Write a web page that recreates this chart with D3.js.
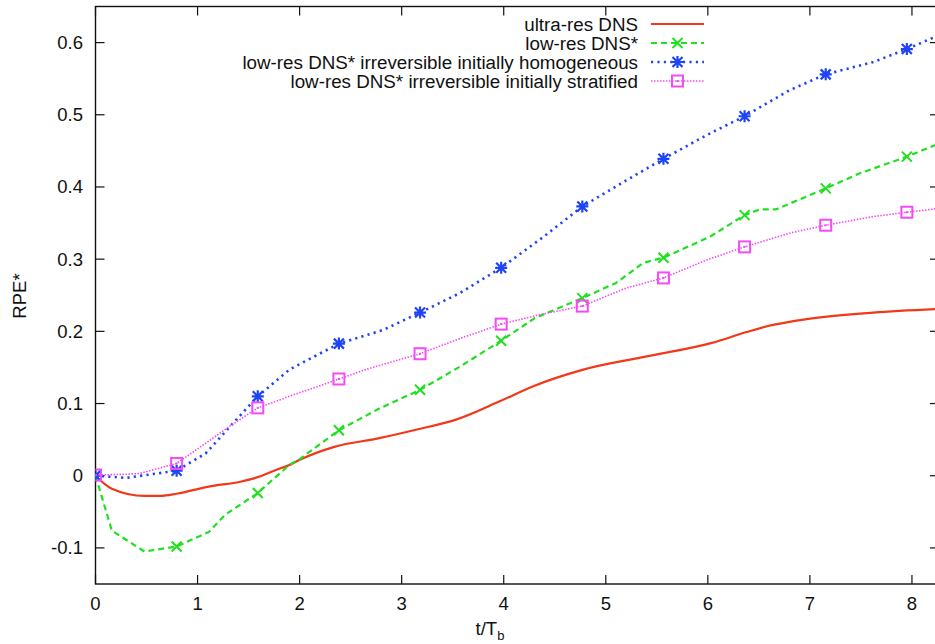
<!DOCTYPE html>
<html><head><meta charset="utf-8">
<script src="https://cdn.jsdelivr.net/npm/d3@7"></script>
<style>
body{margin:0;background:#fff;}
text{font-family:"Liberation Sans",Arial,Helvetica,sans-serif;fill:#111;}
</style></head><body>
<svg id="chart" width="935" height="644"></svg>
<script>
// ---- data ----
const xTicks = [0,1,2,3,4,5,6,7,8];
const yTicks = [-0.1,0,0.1,0.2,0.3,0.4,0.5,0.6];
const yTickLabels = ["-0.1","0","0.1","0.2","0.3","0.4","0.5","0.6"];
const markerT = [0,0.795,1.59,2.385,3.18,3.975,4.77,5.565,6.36,7.155,7.95];

const seriesNames = ["ultra-res DNS","low-res DNS*","low-res DNS* irreversible initially homogeneous","low-res DNS* irreversible initially stratified"];

const ultraT = [0,0.16,0.48,0.64,0.795,1.11,1.43,1.59,1.75,1.9,2.0,2.34,2.78,3.15,3.54,3.96,4.29,4.78,5.43,6.04,6.38,6.58,6.97,7.62,8.26];
const ultraV = [0,-0.018,-0.028,-0.028,-0.025,-0.015,-0.008,-0.002,0.007,0.015,0.022,0.040,0.052,0.064,0.078,0.103,0.124,0.147,0.166,0.184,0.199,0.207,0.217,0.226,0.231];

const lowT = [0,0.16,0.48,0.795,1.11,1.27,1.59,1.9,2.0,2.385,2.78,3.18,3.57,3.975,4.3,4.5,4.77,5.1,5.37,5.565,6.02,6.36,6.51,6.67,7.155,7.49,7.95,8.26];
const lowV = [0,-0.076,-0.105,-0.098,-0.078,-0.054,-0.024,0.015,0.023,0.063,0.093,0.119,0.151,0.187,0.218,0.230,0.246,0.267,0.295,0.302,0.331,0.361,0.369,0.369,0.398,0.419,0.442,0.460];

const homT = [0,0.30,0.795,1.08,1.35,1.59,1.90,2.385,2.82,3.18,3.57,3.975,4.39,4.77,5.2,5.565,5.99,6.36,6.80,7.155,7.62,7.95,8.26];
const homV = [0,-0.003,0.007,0.031,0.073,0.110,0.147,0.183,0.202,0.226,0.253,0.288,0.331,0.373,0.409,0.439,0.472,0.498,0.534,0.556,0.573,0.591,0.610];

const strT = [0,0.30,0.43,0.795,1.08,1.31,1.59,1.90,2.385,2.69,3.18,3.57,3.975,4.35,4.77,5.2,5.565,5.99,6.36,6.80,7.155,7.62,7.95,8.26];
const strV = [0.001,0.002,0.003,0.017,0.045,0.068,0.094,0.110,0.134,0.149,0.169,0.190,0.210,0.223,0.235,0.260,0.274,0.299,0.317,0.336,0.347,0.359,0.365,0.370];

// ---- layout ----
const svg = d3.select("#chart");
const L = 95.5, R = 939, T = 6.5, B = 584;
const x = d3.scaleLinear().domain([0, 8.265]).range([L, R]);
const y = d3.scaleLinear().domain([-0.15, 0.65]).range([B, T]);

const styles = [
  {color:"#f2381a", dash:null, width:2.2, marker:"none", curve:d3.curveMonotoneX},
  {color:"#1fe01f", dash:"6,4", width:2.2, marker:"x", curve:d3.curveLinear},
  {color:"#1f44f5", dash:"2.2,4.2", width:2.6, marker:"star", curve:d3.curveLinear},
  {color:"#f44cf4", dash:"1.5,1.5", width:1.6, marker:"square", curve:d3.curveLinear}
];
const series = [
  {t:ultraT, v:ultraV},
  {t:lowT, v:lowV},
  {t:homT, v:homV},
  {t:strT, v:strV}
];

svg.append("defs").append("clipPath").attr("id","clip")
  .append("rect").attr("x",L).attr("y",T).attr("width",R-L).attr("height",B-T);

// axes frame with inward ticks
const frame = svg.append("g");
const tickLen = 9;
xTicks.forEach(t=>{
  frame.append("line").attr("x1",x(t)).attr("x2",x(t)).attr("y1",B).attr("y2",B-tickLen).attr("stroke","#111").attr("stroke-width",1.2);
  frame.append("line").attr("x1",x(t)).attr("x2",x(t)).attr("y1",T).attr("y2",T+tickLen).attr("stroke","#111").attr("stroke-width",1.2);
  frame.append("text").attr("x",x(t)).attr("y",610).attr("text-anchor","middle").attr("font-size",18.5).text(d3.format("d")(t));
});
yTicks.forEach((v,i)=>{
  frame.append("line").attr("x1",L).attr("x2",L+tickLen).attr("y1",y(v)).attr("y2",y(v)).attr("stroke","#111").attr("stroke-width",1.2);
  frame.append("line").attr("x1",R).attr("x2",R-tickLen).attr("y1",y(v)).attr("y2",y(v)).attr("stroke","#111").attr("stroke-width",1.2);
  frame.append("text").attr("x",83).attr("y",y(v)+6.5).attr("text-anchor","end").attr("font-size",18.5).text(yTickLabels[i]);
});
frame.append("rect").attr("x",L).attr("y",T).attr("width",R-L).attr("height",B-T)
  .attr("fill","none").attr("stroke","#111").attr("stroke-width",1.4);

// axis titles
svg.append("text").attr("transform","translate(26,296) rotate(-90)").attr("text-anchor","middle").attr("font-size",18.5).text("RPE*");
const xt = svg.append("text").attr("x",490).attr("y",635).attr("text-anchor","middle").attr("font-size",18.5);
xt.append("tspan").text("t/T");
xt.append("tspan").attr("dy",5).attr("font-size",13).text("b");

// marker drawing
function drawMarker(g, kind, cx, cy, color){
  const s = 5;
  if(kind==="x"){
    g.append("path").attr("d",`M${cx-s},${cy-s}L${cx+s},${cy+s}M${cx-s},${cy+s}L${cx+s},${cy-s}`)
      .attr("stroke",color).attr("stroke-width",2).attr("fill","none");
  } else if(kind==="star"){
    g.append("path").attr("d",`M${cx-s},${cy-s}L${cx+s},${cy+s}M${cx-s},${cy+s}L${cx+s},${cy-s}M${cx-s-1},${cy}L${cx+s+1},${cy}M${cx},${cy-s-1}L${cx},${cy+s+1}`)
      .attr("stroke",color).attr("stroke-width",2.2).attr("fill","none");
  } else if(kind==="square"){
    g.append("rect").attr("x",cx-5.5).attr("y",cy-5.5).attr("width",11).attr("height",11)
      .attr("stroke",color).attr("stroke-width",2).attr("fill","none");
    g.append("rect").attr("x",cx-1).attr("y",cy-1).attr("width",2).attr("height",2).attr("fill",color);
  }
}

const plot = svg.append("g").attr("clip-path","url(#clip)");

series.forEach((s,i)=>{
  const st = styles[i];
  const pts = s.t.map((t,j)=>[t, s.v[j]]);
  const line = d3.line().x(d=>x(d[0])).y(d=>y(d[1])).curve(st.curve);
  const p = plot.append("path").datum(pts).attr("d",line).attr("fill","none")
    .attr("stroke",st.color).attr("stroke-width",st.width).attr("stroke-linejoin","round");
  if(st.dash) p.attr("stroke-dasharray",st.dash);
  if(st.marker!=="none"){
    const g = plot.append("g");
    pts.filter(d=>markerT.some(m=>Math.abs(m-d[0])<1e-6)).forEach(d=>drawMarker(g, st.marker, x(d[0]), y(d[1]), st.color));
  }
});

// legend
const legY = [24,43,62,81];
const legend = svg.append("g");
seriesNames.forEach((name,i)=>{
  const st = styles[i];
  legend.append("text").attr("x",638).attr("y",legY[i]+6.5).attr("text-anchor","end").attr("font-size",18.8).text(name);
  const l = legend.append("line").attr("x1",651).attr("x2",704).attr("y1",legY[i]).attr("y2",legY[i])
    .attr("stroke",st.color).attr("stroke-width",st.width);
  if(st.dash) l.attr("stroke-dasharray",st.dash);
  if(st.marker!=="none") drawMarker(legend, st.marker, 677.5, legY[i], st.color);
});
</script>
</body></html>
